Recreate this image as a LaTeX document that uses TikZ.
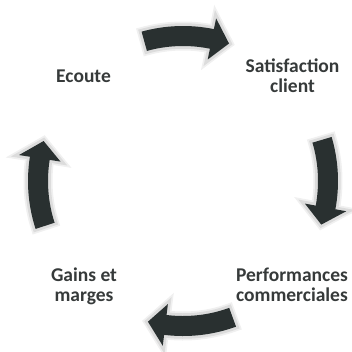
\documentclass[tikz,border=0pt]{standalone}
\usepackage{fontspec}
\setmainfont{Carlito}
\definecolor{arrowdark}{HTML}{293030}
\definecolor{labelgray}{HTML}{363A3A}
\definecolor{rimgray}{HTML}{DCDCDC}
\definecolor{halogray}{HTML}{F0F0F0}
\begin{document}
\begin{tikzpicture}[x=1pt,y=1pt,
  cyclabel/.style={font=\fontsize{19.5}{20}\selectfont\bfseries, text=labelgray, align=center, inner sep=0pt},
  cyclearrow/.style={fill=arrowdark, line join=miter,
    preaction={draw=halogray, line width=9pt, line join=miter},
    preaction={draw=rimgray, line width=5.5pt, line join=miter}}
]
\useasboundingbox (0,0) rectangle (352,351);
% four curved block arrows running clockwise round the cycle
\begin{scope}[shift={(183,170)}]
  \foreach \a in {88.5,-0.5,-87,181} {
    \path[cyclearrow]
      ({\a+17}:155pt) arc[start angle={\a+17}, end angle={\a-10}, radius=155pt]
      -- ({\a-10}:166pt) -- ({\a-17}:145pt) -- ({\a-10}:124pt)
      -- ({\a-10}:135pt)
      arc[start angle={\a-10}, end angle={\a+17}, radius=135pt] -- cycle;
  }
\end{scope}
% stage labels
\node[cyclabel] (ecoute) at (83.5,274.5) {Ecoute};
\node[cyclabel] (satisfaction) at (292.5,275) {Satisfaction\\client};
\node[cyclabel] (gains) at (84,65) {Gains et\\marges};
\node[cyclabel] (performances) at (292,66.5) {Performances\\commerciales};
\end{tikzpicture}
\end{document}
